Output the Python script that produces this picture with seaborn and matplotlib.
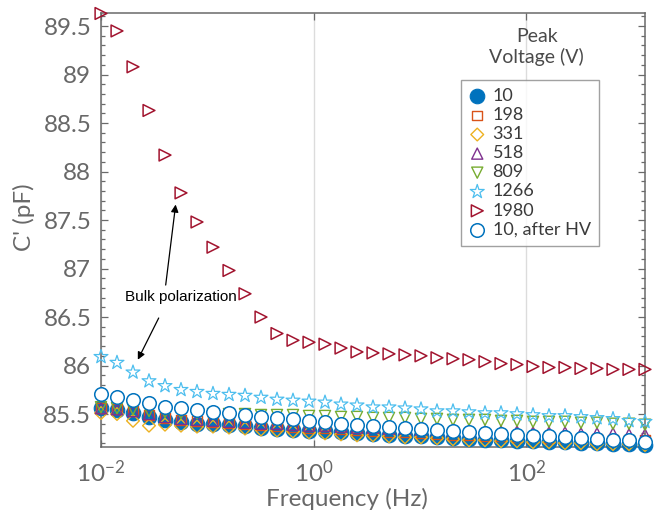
import numpy as np
import pandas as pd
import matplotlib
matplotlib.use("Agg")
import matplotlib.pyplot as plt
from matplotlib.ticker import FixedLocator, FuncFormatter, MultipleLocator, NullLocator
import seaborn as sns

# Measurement frequencies (Hz), two points per octave
freq = [0.01, 0.01414, 0.02, 0.02828, 0.04, 0.05657, 0.08, 0.1131, 0.16, 0.2263,
        0.32, 0.4525, 0.64, 0.9051, 1.28, 1.810, 2.56, 3.620, 5.12, 7.241,
        10.24, 14.48, 20.48, 28.96, 40.96, 57.93, 81.92, 115.9, 163.84, 231.7,
        327.68, 463.4, 655.36, 926.8, 1310.72]

# Real capacitance C' (pF) for each peak voltage
c_10 = [85.56, 85.54, 85.51, 85.47, 85.44, 85.42, 85.40, 85.40, 85.39, 85.38,
        85.36, 85.35, 85.34, 85.33, 85.32, 85.31, 85.30, 85.29, 85.28, 85.27,
        85.27, 85.26, 85.25, 85.24, 85.23, 85.23, 85.22, 85.22, 85.21, 85.21,
        85.20, 85.20, 85.19, 85.19, 85.18]
c_198 = [85.56, 85.55, 85.53, 85.49, 85.46, 85.44, 85.43, 85.42, 85.41, 85.40,
         85.39, 85.38, 85.37, 85.36, 85.35, 85.34, 85.33, 85.32, 85.31, 85.31,
         85.30, 85.29, 85.28, 85.28, 85.27, 85.27, 85.26, 85.26, 85.25, 85.25,
         85.24, 85.24, 85.23, 85.23, 85.23]
c_331 = [85.51, 85.50, 85.43, 85.38, 85.39, 85.38, 85.37, 85.37, 85.36, 85.35,
         85.34, 85.33, 85.32, 85.31, 85.30, 85.29, 85.28, 85.28, 85.27, 85.26,
         85.26, 85.25, 85.24, 85.23, 85.23, 85.22, 85.22, 85.21, 85.21, 85.20,
         85.20, 85.19, 85.19, 85.19, 85.18]
c_518 = [85.56, 85.55, 85.53, 85.50, 85.47, 85.45, 85.44, 85.43, 85.42, 85.41,
         85.40, 85.40, 85.39, 85.38, 85.38, 85.37, 85.36, 85.36, 85.35, 85.35,
         85.34, 85.34, 85.33, 85.33, 85.32, 85.32, 85.32, 85.31, 85.31, 85.31,
         85.30, 85.30, 85.30, 85.29, 85.29]
c_809 = [85.57, 85.56, 85.55, 85.53, 85.52, 85.51, 85.51, 85.50, 85.50, 85.50,
         85.49, 85.49, 85.49, 85.48, 85.48, 85.47, 85.47, 85.46, 85.46, 85.46,
         85.45, 85.45, 85.44, 85.44, 85.44, 85.43, 85.43, 85.42, 85.42, 85.42,
         85.41, 85.41, 85.40, 85.40, 85.39]
c_1266 = [86.09, 86.03, 85.93, 85.84, 85.79, 85.75, 85.73, 85.71, 85.70, 85.69,
          85.67, 85.65, 85.64, 85.63, 85.62, 85.60, 85.59, 85.57, 85.57, 85.56,
          85.55, 85.53, 85.53, 85.52, 85.51, 85.51, 85.50, 85.49, 85.48, 85.48,
          85.47, 85.46, 85.45, 85.43, 85.42]
c_1980 = [89.63, 89.45, 89.08, 88.63, 88.17, 87.78, 87.48, 87.22, 86.98, 86.74,
          86.50, 86.33, 86.26, 86.24, 86.22, 86.18, 86.14, 86.13, 86.12, 86.11,
          86.10, 86.08, 86.07, 86.06, 86.04, 86.02, 86.01, 85.99, 85.98, 85.98,
          85.97, 85.97, 85.96, 85.96, 85.96]
c_10_after = [85.71, 85.68, 85.64, 85.61, 85.575, 85.565, 85.54, 85.52, 85.51, 85.49,
              85.47, 85.46, 85.445, 85.43, 85.42, 85.40, 85.39, 85.38, 85.37, 85.36,
              85.35, 85.34, 85.32, 85.31, 85.30, 85.29, 85.28, 85.27, 85.27, 85.26,
              85.25, 85.24, 85.23, 85.23, 85.21]

labels = ["10", "198", "331", "518", "809", "1266", "1980", "10, after HV"]
series = [c_10, c_198, c_331, c_518, c_809, c_1266, c_1980, c_10_after]

df = pd.concat(
    [pd.DataFrame({"freq": freq, "cap": vals, "voltage": lab})
     for lab, vals in zip(labels, series)],
    ignore_index=True,
)

# Marker styling per series: (marker, colour, face, size, linewidth)
styles = {
    "10":           ("o", "#0072BD", "#0072BD", 110, 0.8),
    "198":          ("s", "#D95319", "none", 50, 1.0),
    "331":          ("D", "#EDB120", "none", 42, 1.0),
    "518":          ("^", "#7E2F8E", "none", 64, 1.0),
    "809":          ("v", "#77AC30", "none", 64, 1.0),
    "1266":         ("*", "#4DBEEE", "none", 110, 0.9),
    "1980":         (">", "#A2142F", "none", 72, 1.1),
    "10, after HV": ("o", "#0072BD", "white", 95, 1.1),
}

sns.set_theme(style="ticks")
plt.rcParams["font.family"] = ["Lato", "DejaVu Sans"]
plt.rcParams["mathtext.fontset"] = "custom"
plt.rcParams["mathtext.rm"] = "Lato"
plt.rcParams["mathtext.default"] = "regular"

fig = plt.figure(figsize=(6.54, 5.15), dpi=100)
ax = fig.add_axes([101 / 654, 1 - 447 / 515, 544 / 654, 434 / 515])

for lab in labels:
    marker, col, face, size, lw = styles[lab]
    sub = df[df["voltage"] == lab]
    sns.scatterplot(data=sub, x="freq", y="cap", ax=ax, marker=marker, s=size,
                    facecolor=face, edgecolor=col, linewidth=lw, label=lab,
                    clip_on=False, zorder=3)

ax.set_xscale("log")
ax.set_xlim(0.01, 1310.72)
ax.set_ylim(85.16, 89.635)

ax.xaxis.set_major_locator(FixedLocator([1e-2, 1e0, 1e2]))
ax.xaxis.set_major_formatter(FuncFormatter(lambda v, p: r"$10^{%d}$" % round(np.log10(v))))
ax.xaxis.set_minor_locator(NullLocator())
ax.yaxis.set_major_locator(MultipleLocator(0.5))
ax.yaxis.set_minor_locator(MultipleLocator(0.1))
ax.yaxis.set_major_formatter(FuncFormatter(lambda v, p: "%g" % round(v, 1)))

ax.grid(axis="x", which="major", color="#dcdcdc", linewidth=1.0, zorder=0)
ax.grid(axis="y", visible=False)

grey = "#686868"
for sp in ax.spines.values():
    sp.set_visible(True)
    sp.set_color("#6a6a6a")
    sp.set_linewidth(1.1)
ax.tick_params(which="both", direction="in", top=True, right=True,
               color="#6a6a6a", width=0.9)
ax.tick_params(which="major", length=5)
ax.tick_params(which="minor", length=3)
ax.tick_params(axis="y", which="major", pad=7, labelsize=17.5, labelcolor=grey)
ax.tick_params(axis="x", which="major", pad=9, labelsize=17.5, labelcolor=grey)

ax.set_xlabel("Frequency (Hz)", fontsize=17.5, color=grey)
ax.set_ylabel("C' (pF)", fontsize=17.5, color=grey)
ax.xaxis.set_label_coords(0.452, -0.095)
ax.yaxis.set_label_coords(-0.122, 0.53)

# Annotation for the low-frequency rise
ax.text(0.057, 86.71, "Bulk polarization", fontsize=11, color="black",
        family=["Liberation Sans", "DejaVu Sans"], ha="center", va="center")
arrow = dict(arrowstyle="-|>", color="black", lw=0.9, mutation_scale=11,
             shrinkA=0, shrinkB=0)
ax.annotate("", xy=(0.0504, 87.66), xytext=(0.0406, 86.83), arrowprops=arrow)
ax.annotate("", xy=(0.0222, 86.06), xytext=(0.0349, 86.49), arrowprops=arrow)

# Legend with its heading placed above the frame
leg = ax.legend(loc="upper left", bbox_to_anchor=(461 / 654, 1 - 80 / 515),
                bbox_transform=fig.transFigure, borderaxespad=0, frameon=True,
                fancybox=False, edgecolor="#8a8a8a", fontsize=13,
                handlelength=0.9, handletextpad=0.4, labelspacing=0.17,
                borderpad=0.45, scatterpoints=1)
leg.get_frame().set_linewidth(1.0)
for t in leg.get_texts():
    t.set_color("#3a3a3a")
ax.text(0.801, 0.922, "Peak\nVoltage (V)", transform=ax.transAxes, ha="center",
        va="center", fontsize=14, color="#4a4a4a", linespacing=1.15)

fig.savefig("out.png", dpi=100)
